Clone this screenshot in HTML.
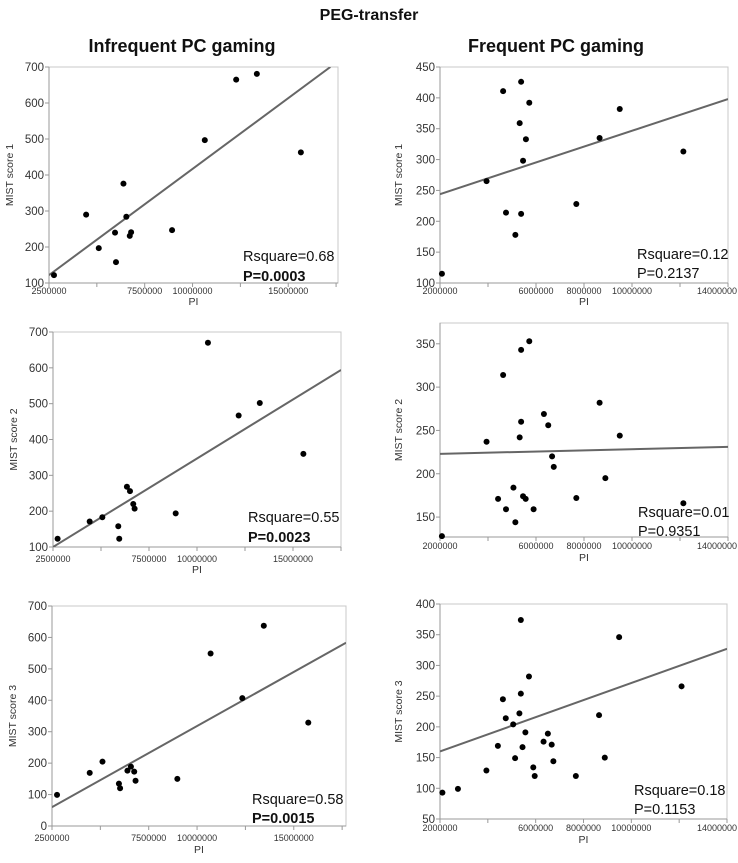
<!DOCTYPE html>
<html><head><meta charset="utf-8"><style>
body{margin:0;background:#fff;width:738px;height:858px;overflow:hidden}
svg{font-family:"Liberation Sans",sans-serif}
</style></head><body>
<svg id="chart" width="738" height="858">
<text x="369" y="20" text-anchor="middle" font-size="16" font-weight="bold" fill="#111">PEG-transfer</text>
<text x="182" y="52" text-anchor="middle" font-size="18" font-weight="bold" fill="#111">Infrequent PC gaming</text>
<text x="556" y="52" text-anchor="middle" font-size="18" font-weight="bold" fill="#111">Frequent PC gaming</text>
</svg>
<script>
// Panel data (x in millions of PI)
const l1X=[2.76,4.44,5.10,5.95,6.00,6.39,6.54,6.72,6.79,8.93,10.64,12.28,13.36,15.66];
const l1Y=[122,290,197,240,158,376,284,231,241,247,497,665,681,463];
const l1Fit=[122,700]; const l1FitX=[2.5,17.2];
const l2X=[2.74,4.41,5.07,5.90,5.95,6.35,6.51,6.68,6.75,8.89,10.57,12.17,13.27,15.54];
const l2Y=[123,171,183,158,123,268,256,220,207,194,670,467,502,360];
const l2Fit=[100,594]; const l2FitX=[2.5,17.5];
const l3X=[2.76,4.45,5.11,5.96,6.02,6.40,6.58,6.75,6.82,8.98,10.70,12.34,13.45,15.75];
const l3Y=[99,169,205,135,120,176,189,173,144,150,549,407,637,329];
const l3Fit=[60,583]; const l3FitX=[2.5,17.7];
const r1X=[2.08,3.94,4.63,4.75,5.14,5.32,5.38,5.38,5.46,5.58,5.72,7.68,8.65,9.49,12.14];
const r1Y=[115,265,411,214,178,359,426,212,298,333,392,228,335,382,313];
const r1Fit=[244,398]; const r1FitX=[2,14];
const r2X=[2.08,3.94,4.42,4.63,4.75,5.06,5.14,5.32,5.38,5.38,5.46,5.57,5.72,5.90,6.33,6.51,6.67,6.74,7.68,8.65,8.89,9.49,12.14];
const r2Y=[128,237,171,314,159,184,144,242,343,260,174,171,353,159,269,256,220,208,172,282,195,244,166];
const r2Fit=[223,231]; const r2FitX=[2,14];
const r3X=[2.10,2.75,3.94,4.42,4.63,4.75,5.06,5.14,5.32,5.38,5.38,5.45,5.57,5.72,5.90,5.96,6.33,6.51,6.67,6.74,7.68,8.65,8.89,9.49,12.10];
const r3Y=[93,99,129,169,245,214,204,149,222,374,254,167,191,282,134,120,176,189,171,144,120,219,150,346,266];
const r3Fit=[160,327]; const r3FitX=[2,14];
const leftXTicks=[2.5,5,7.5,10,12.5,15,17.5];
const leftXLabels=["2500000","","7500000","10000000","","15000000",""];
const rightXTicks=[2,4,6,8,10,12,14];
const rightXLabels=["2000000","","6000000","8000000","10000000","","14000000"];
const stats=[["Rsquare=0.68","P=0.0003",true],["Rsquare=0.55","P=0.0023",true],["Rsquare=0.58","P=0.0015",true],["Rsquare=0.12","P=0.2137",false],["Rsquare=0.01","P=0.9351",false],["Rsquare=0.18","P=0.1153",false]];

const svg=document.getElementById('chart');
const NS='http://www.w3.org/2000/svg';
function mk(tag,attrs,parent){const e=document.createElementNS(NS,tag);for(const k in attrs)e.setAttribute(k,attrs[k]);parent.appendChild(e);return e;}

const panels=[
 {id:'l1',xs:l1X,ys:l1Y,fx:l1FitX,fy:l1Fit,box:[49,67,338,283],xd:[2.5,17.6],yd:[100,700],yt:[100,200,300,400,500,600,700],xt:leftXTicks,xl:leftXLabels,yl:'MIST score 1',ylx:13,st:stats[0],sx:243,sy:[261,281],xly:294,pi:305},
 {id:'l2',xs:l2X,ys:l2Y,fx:l2FitX,fy:l2Fit,box:[53,332,341,547],xd:[2.5,17.5],yd:[100,700],yt:[100,200,300,400,500,600,700],xt:leftXTicks,xl:leftXLabels,yl:'MIST score 2',ylx:17,st:stats[1],sx:248,sy:[522,542],xly:562,pi:573},
 {id:'l3',xs:l3X,ys:l3Y,fx:l3FitX,fy:l3Fit,box:[52,606,346,826],xd:[2.5,17.7],yd:[0,700],yt:[0,100,200,300,400,500,600,700],xt:leftXTicks,xl:leftXLabels,yl:'MIST score 3',ylx:16,st:stats[2],sx:252,sy:[804,823],xly:841,pi:853},
 {id:'r1',xs:r1X,ys:r1Y,fx:r1FitX,fy:r1Fit,box:[440,67,728,283],xd:[2,14],yd:[100,450],yt:[100,150,200,250,300,350,400,450],xt:rightXTicks,xl:rightXLabels,yl:'MIST score 1',ylx:402,st:stats[3],sx:637,sy:[259,278],xly:294,pi:305},
 {id:'r2',xs:r2X,ys:r2Y,fx:r2FitX,fy:r2Fit,box:[440,323,728,537],xd:[2,14],yd:[127,374],yt:[150,200,250,300,350],xt:rightXTicks,xl:rightXLabels,yl:'MIST score 2',ylx:402,st:stats[4],sx:638,sy:[517,536],xly:549,pi:561},
 {id:'r3',xs:r3X,ys:r3Y,fx:r3FitX,fy:r3Fit,box:[440,604,727,819],xd:[2,14],yd:[50,400],yt:[50,100,150,200,250,300,350,400],xt:rightXTicks,xl:rightXLabels,yl:'MIST score 3',ylx:402,st:stats[5],sx:634,sy:[795,814],xly:831,pi:843}
];

panels.forEach(p=>{
 const [x0,y0,x1,y1]=p.box;
 const sx=v=>x0+(v-p.xd[0])/(p.xd[1]-p.xd[0])*(x1-x0);
 const sy=v=>y1-(v-p.yd[0])/(p.yd[1]-p.yd[0])*(y1-y0);
 const g=mk('g',{},svg);
 
 
 const cid='clip-'+p.id;
 const cp=mk('clipPath',{id:cid},g);
 mk('rect',{x:x0,y:y0,width:x1-x0,height:y1-y0},cp);
 const fr=mk('rect',{x:x0,y:y0,width:x1-x0,height:y1-y0,fill:'none',stroke:'#c8c8c8','stroke-width':1},g);
 
 
 const ax=mk('path',{d:`M${x0},${y0}V${y1}H${x1}`,fill:'none',stroke:'#999','stroke-width':1},g);
 
 
 p.yt.forEach(v=>{
  const y=sy(v);
  mk('line',{x1:x0-4,x2:x0,y1:y,y2:y,stroke:'#999'},g);
  const t=mk('text',{x:x0-5,y:y+4,'text-anchor':'end','font-size':11.5,fill:'#333'},g);
  t.textContent=v;
  
  
 });
 p.xt.forEach((v,i)=>{
  const x=sx(v);
  mk('line',{x1:x,x2:x,y1:y1,y2:y1+4,stroke:'#999'},g);
  if(p.xl[i]){
   const t=mk('text',{x:Math.min(x,717),y:p.xly,'text-anchor':'middle','font-size':9,fill:'#333'},g);
   t.textContent=p.xl[i];
   
   
  }
 });
 const pi=mk('text',{x:(x0+x1)/2,y:p.pi,'text-anchor':'middle','font-size':10.5,fill:'#333'},g);
 pi.textContent='PI';
 
 
 const cy=(y0+y1)/2;
 const yl=mk('text',{x:p.ylx,y:cy,'text-anchor':'middle','font-size':10.5,fill:'#333',transform:`rotate(-90 ${p.ylx} ${cy})`},g);
 yl.textContent=p.yl;
 
 
 const ln=mk('line',{x1:sx(p.fx[0]),y1:sy(p.fy[0]),x2:sx(p.fx[1]),y2:sy(p.fy[1]),stroke:'#666','stroke-width':2,'clip-path':`url(#${cid})`},g);
 
 
 p.xs.forEach((v,i)=>{
  const c=mk('circle',{cx:sx(v),cy:sy(p.ys[i]),r:3,fill:'#000'},g);
  
  
 });
 const t1=mk('text',{x:p.sx,y:p.sy[0],'font-size':14.5,fill:'#111'},g);
 t1.textContent=p.st[0];
 
 
 const t2=mk('text',{x:p.sx,y:p.sy[1],'font-size':14.5,fill:'#111','font-weight':p.st[2]?'bold':'normal'},g);
 t2.textContent=p.st[1];
 
 
});
</script>
</body></html>
